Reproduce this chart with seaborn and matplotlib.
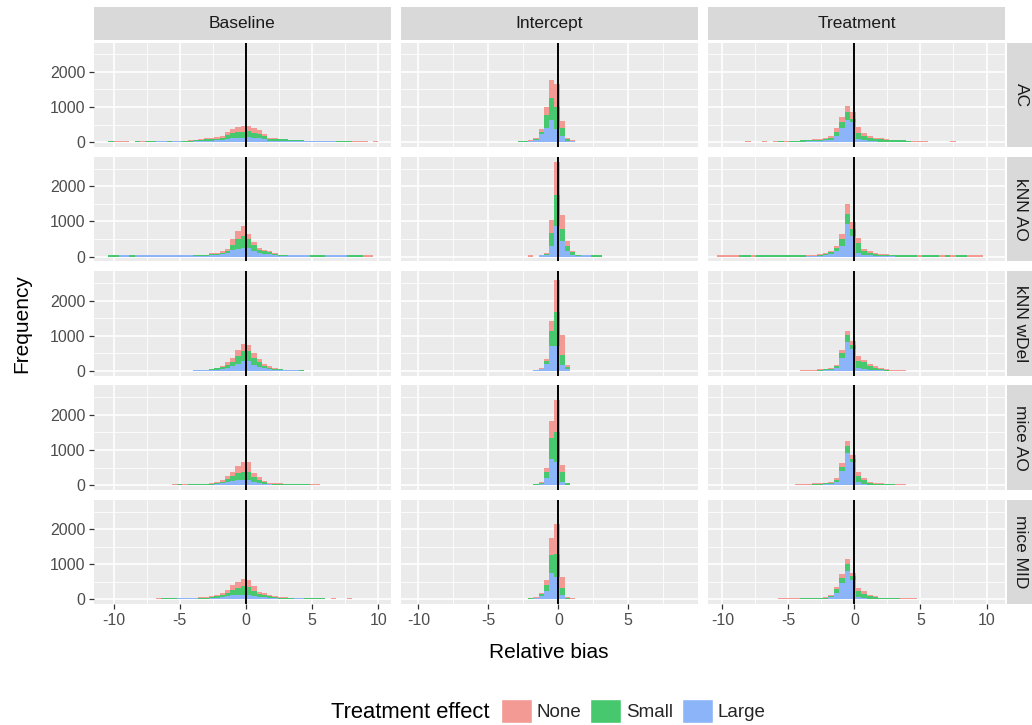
import numpy as np
import pandas as pd
import matplotlib
matplotlib.use("Agg")
import matplotlib.pyplot as plt
import seaborn as sns
from matplotlib.patches import Patch
from matplotlib.ticker import FixedLocator

sns.set_theme(style="darkgrid")
plt.rcParams["font.family"] = ["Liberation Sans", "DejaVu Sans"]

# ---------------- categories ----------------
params = ["Baseline", "Intercept", "Treatment"]
methods = ["AC", "kNN AO", "kNN wDel", "mice AO", "mice MID"]
levels = ["None", "Small", "Large"]
colors = {"None": "#F49A94", "Small": "#48C86E", "Large": "#8BB4F9"}

# bin widths (relative bias units) per column
bin_width = {"Baseline": 0.4, "Intercept": 0.375, "Treatment": 0.42}

# ---------------- data: counts per bin (left edge of first bin = *_start) ----------------
# Baseline
ac_base_start = -10.4
ac_base_none = [0,40,40,40,0,0,40,0,0,0, 0,0,0,0,0,20,25,30,35,40, 43,50,95,120,150,162,150,125,100,70, 38,10,0,0,0,0,0,0,0,0, 0,0,0,0,0,0,40,40,40,0, 40]
ac_base_small = [40,0,0,0,0,40,0,40,40,0, 0,40,0,0,45,17,25,35,40,48, 50,60,110,136,160,171,171,150,130,95, 50,60,55,52,48,42,35,0,0,0, 0,0,0,40,40,35,0,0,0,0, 0]
ac_base_large = [0,0,0,0,0,0,0,0,0,40, 40,0,40,40,0,20,26,30,39,45, 50,61,100,115,128,133,136,125,113,83, 45,44,40,34,28,25,22,40,40,40, 40,40,40,0,0,0,0,0,0,0, 0]

knnao_base_start = -10.4
knnao_base_none = [0,0,0,0,0,0,0,0,0,0, 0,0,0,0,0,0,15,15,15,20, 20,40,60,171,238,285,143,100,50,40, 35,20,10,8,0,0,0,0,0,0, 0,0,0,0,0,0,0,0,35,35, 0]
knnao_base_small = [35,35,0,0,35,0,0,0,0,0, 0,0,0,0,0,0,10,10,12,35, 35,50,75,152,257,333,238,150,90,65, 50,30,15,10,0,0,0,0,35,35, 35,0,0,0,0,35,35,35,0,0, 0]
knnao_base_large = [0,0,35,35,0,35,35,35,35,35, 35,35,35,35,35,35,23,23,25,40, 40,62,93,190,228,248,248,170,108,85, 67,45,23,20,35,35,35,35,0,0, 0,35,35,35,35,0,0,0,0,0, 0]

knnwdel_base_start = -4.0
knnwdel_base_none = [0,0,25,15,25,40,70,100,171,190,175,152,100,55,30,15,8,0,0,0,0]
knnwdel_base_small = [25,25,0,20,35,50,90,130,219,286,280,190,120,70,45,30,20,25,25,25,25]
knnwdel_base_large = [10,10,10,22,35,53,87,132,190,286,288,172,123,75,49,31,20,10,10,10,5]

miceao_base_start = -5.6
miceao_base_none = [35,0,35,0,0,10,10,10,25,40,80,120,200,267,260,120,70,30,15,10,10,0,0,0,0,0,35,35]
miceao_base_small = [0,35,0,35,35,20,20,20,35,50,100,140,210,238,240,130,85,45,22,20,20,30,30,30,30,30,0,0]
miceao_base_large = [0,0,0,0,0,15,15,18,35,53,87,121,142,143,147,102,64,39,20,18,18,5,5,5,5,0,0,0]

micemid_base_start = -6.8
micemid_base_none = [35,0,0,0,0,0,0,0,15,15, 25,40,50,80,150,170,219,200,120,55, 40,30,20,15,15,0,0,0,0,0, 0,0,0,35,0,0,35]
micemid_base_small = [0,35,35,35,0,0,0,5,20,20, 30,45,60,100,150,185,238,225,140,80, 70,55,35,22,22,30,0,0,35,35, 35,30,0,0,0,0,0]
micemid_base_large = [0,0,5,0,35,35,35,35,22,22, 31,48,61,87,119,140,133,137,111,74, 61,48,31,20,20,5,35,35,0,0, 0,0,0,0,0,0,0]

# Intercept
ac_int_start = -2.9
ac_int_none = [0,15,20,30,67,209,514,666,209,30,15,10]
ac_int_small = [35,10,20,30,76,381,628,619,219,40,20,5]
ac_int_large = [0,13,27,54,228,400,629,371,181,44,22,4]

knnao_int_start = -2.15
knnao_int_none = [35,0,0,19,381,952,381,124,40,10,0,0,0,0]
knnao_int_small = [0,0,0,38,362,876,352,162,76,15,0,0,35,35]
knnao_int_large = [0,0,35,38,295,866,438,152,55,23,35,35,0,0]

knnwdel_int_start = -1.775
knnwdel_int_none = [20,20,57,267,904,552,40]
knnwdel_int_small = [0,15,86,428,952,286,70]
knnwdel_int_large = [15,41,200,714,714,171,52]

miceao_int_start = -1.775
miceao_int_none = [0,30,133,476,923,209,20]
miceao_int_small = [35,25,152,609,857,267,30]
miceao_int_large = [0,40,209,743,648,95,17]

micemid_int_start = -2.15
micemid_int_none = [0,15,40,124,476,828,314,20,35]
micemid_int_small = [35,10,50,190,514,667,209,40,0]
micemid_int_large = [0,42,100,229,762,638,115,7,0]

# Treatment
ac_trt_start = -8.29
ac_trt_none = [38,0,0,38,0,38,0,38,0,0, 0,20,25,30,38,45,95,143,162,200, 162,95,48,38,30,20,15,0,0,0, 38,38,30,0,0,0,0,38]
ac_trt_small = [0,0,0,0,0,0,38,0,35,35, 40,30,30,35,45,60,124,162,238,100, 190,124,95,70,64,50,45,40,40,30, 0,0,0,0,0,0,0,0]
ac_trt_large = [0,0,0,0,0,0,0,0,0,0, 17,26,31,40,50,66,181,400,628,566, 86,57,38,25,20,16,16,15,10,10, 0,0,0,0,0,0,0,0]

knnao_trt_start = -10.39
knnao_trt_none = [38,38,38,38,0,0,38,0,0,0, 0,0,0,0,0,0,20,20,20,30, 30,48,143,286,209,124,76,40,30,25, 20,0,0,0,0,0,38,0,0,0, 38,0,38,0,0,38,38,38]
knnao_trt_small = [0,0,0,0,38,38,0,38,38,38, 38,38,38,38,38,38,10,10,25,35, 50,95,190,286,190,286,95,70,40,25, 30,30,38,38,38,38,0,38,38,38, 0,38,0,38,38,0,0,0]
knnao_trt_large = [0,0,0,0,0,0,0,0,0,0, 0,0,0,0,0,0,18,18,22,40, 72,152,295,914,581,105,57,42,25,17, 17,18,0,0,0,0,0,0,0,0, 0,0,0,0,0,0,0,0]

knnwdel_trt_start = -4.09
knnwdel_trt_none = [35,35,35,15,15,20,40,100,133,114,124,76,48,30,20,15,35,35,35]
knnwdel_trt_small = [0,0,0,25,30,30,50,124,190,95,209,190,114,70,40,25,0,0,0]
knnwdel_trt_large = [0,0,0,8,12,26,81,376,819,629,76,48,38,24,16,8,0,0,0]

miceao_trt_start = -4.51
miceao_trt_none = [38,38,38,20,15,15,30,50,100,152,105,114,76,40,15,15,0,0,38,38]
miceao_trt_small = [0,0,0,10,20,25,30,60,114,190,95,190,100,45,25,25,38,38,0,0]
miceao_trt_large = [0,0,0,18,13,27,35,99,409,914,657,76,33,10,8,8,0,0,0,0]

micemid_trt_start = -5.77
micemid_trt_none = [38,38,38,38,0,0,0,20,20,35,60,114,143,100,95,76,40,30,15,15,0,0,38,38,38]
micemid_trt_small = [0,0,0,0,38,38,38,15,25,40,95,143,190,95,171,114,70,40,25,25,38,38,0,0,0]
micemid_trt_large = [0,0,0,0,0,0,0,13,22,58,197,476,809,567,58,38,23,16,8,8,0,0,0,0,0]

panel_data = {
    ("AC", "Baseline"): (ac_base_start, ac_base_none, ac_base_small, ac_base_large),
    ("kNN AO", "Baseline"): (knnao_base_start, knnao_base_none, knnao_base_small, knnao_base_large),
    ("kNN wDel", "Baseline"): (knnwdel_base_start, knnwdel_base_none, knnwdel_base_small, knnwdel_base_large),
    ("mice AO", "Baseline"): (miceao_base_start, miceao_base_none, miceao_base_small, miceao_base_large),
    ("mice MID", "Baseline"): (micemid_base_start, micemid_base_none, micemid_base_small, micemid_base_large),
    ("AC", "Intercept"): (ac_int_start, ac_int_none, ac_int_small, ac_int_large),
    ("kNN AO", "Intercept"): (knnao_int_start, knnao_int_none, knnao_int_small, knnao_int_large),
    ("kNN wDel", "Intercept"): (knnwdel_int_start, knnwdel_int_none, knnwdel_int_small, knnwdel_int_large),
    ("mice AO", "Intercept"): (miceao_int_start, miceao_int_none, miceao_int_small, miceao_int_large),
    ("mice MID", "Intercept"): (micemid_int_start, micemid_int_none, micemid_int_small, micemid_int_large),
    ("AC", "Treatment"): (ac_trt_start, ac_trt_none, ac_trt_small, ac_trt_large),
    ("kNN AO", "Treatment"): (knnao_trt_start, knnao_trt_none, knnao_trt_small, knnao_trt_large),
    ("kNN wDel", "Treatment"): (knnwdel_trt_start, knnwdel_trt_none, knnwdel_trt_small, knnwdel_trt_large),
    ("mice AO", "Treatment"): (miceao_trt_start, miceao_trt_none, miceao_trt_small, miceao_trt_large),
    ("mice MID", "Treatment"): (micemid_trt_start, micemid_trt_none, micemid_trt_small, micemid_trt_large),
}

rows = []
for (m, p), (start, n_, s_, l_) in panel_data.items():
    w = bin_width[p]
    for lev, arr in zip(levels, (n_, s_, l_)):
        for i, c in enumerate(arr):
            if c > 0:
                rows.append({"method": m, "param": p, "effect": lev,
                             "bias": start + (i + 0.5) * w, "count": c})
df = pd.DataFrame(rows)

# bin edges per column
edges = {
    "Baseline": list(-10.4 + 0.4 * np.arange(0, 53)),
    "Intercept": list(0.1 + 0.375 * np.arange(-9, 10)),
    "Treatment": list(0.11 + 0.42 * np.arange(-25, 26)),
}
xlims = {"Baseline": (-11.48, 10.95), "Intercept": (-11.24, 9.98), "Treatment": (-11.09, 11.4)}
xmajor = {"Baseline": [-10, -5, 0, 5, 10], "Intercept": [-10, -5, 0, 5], "Treatment": [-10, -5, 0, 5, 10]}
xminor = {"Baseline": [-7.5, -2.5, 2.5, 7.5], "Intercept": [-7.5, -2.5, 2.5, 7.5], "Treatment": [-7.5, -2.5, 2.5, 7.5]}

# ---------------- figure layout (pixels) ----------------
W, H = 1032, 725
fig = plt.figure(figsize=(W / 100, H / 100), dpi=100)
fig.patch.set_facecolor("white")

def rect(x0, y0, w, h):
    return [x0 / W, 1 - (y0 + h) / H, w / W, h / H]

col_x = [94, 401, 708]
pw = 297
row_y = [42.5 + 114.3 * r for r in range(5)]
ph = 104.5

tick_col = "#333333"
lab_col = "#4D4D4D"

for r, m in enumerate(methods):
    for c, p in enumerate(params):
        ax = fig.add_axes(rect(col_x[c], row_y[r], pw, ph))
        ax.set_facecolor("#EBEBEB")
        sub = df[(df.method == m) & (df.param == p)]
        sns.histplot(data=sub, x="bias", weights="count", hue="effect",
                     hue_order=levels, palette=colors, multiple="stack",
                     bins=edges[p], alpha=1, linewidth=0, edgecolor="none",
                     legend=False, ax=ax, zorder=2)
        ax.axvline(0, color="black", lw=1.4, zorder=4)
        ax.set_xlim(*xlims[p])
        ax.set_ylim(-135, 2836)
        ax.xaxis.set_major_locator(FixedLocator(xmajor[p]))
        ax.xaxis.set_minor_locator(FixedLocator(xminor[p]))
        ax.yaxis.set_major_locator(FixedLocator([0, 1000, 2000]))
        ax.yaxis.set_minor_locator(FixedLocator([500, 1500, 2500]))
        ax.grid(which="major", color="white", lw=1.2, zorder=0)
        ax.grid(which="minor", color="white", lw=0.6, zorder=0)
        ax.set_axisbelow(True)
        for s in ax.spines.values():
            s.set_visible(False)
        ax.set_xlabel("")
        ax.set_ylabel("")
        ax.tick_params(which="minor", length=0)
        ax.tick_params(which="major", colors=tick_col, labelcolor=lab_col,
                       labelsize=11.5, length=3.8, width=0.9, pad=2.5,
                       left=(c == 0), bottom=(r == len(methods) - 1))
        if c == 0:
            ax.set_yticklabels(["0", "1000", "2000"])
        else:
            ax.tick_params(axis="y", length=0, labelleft=False)
        if r == len(methods) - 1:
            ax.set_xticklabels([str(v) for v in xmajor[p]])
        else:
            ax.tick_params(axis="x", length=0, labelbottom=False)

# top strips
for c, p in enumerate(params):
    sax = fig.add_axes(rect(col_x[c], 7, pw, 33))
    sax.set_facecolor("#D9D9D9")
    sax.set_xticks([]); sax.set_yticks([])
    sax.grid(False)
    for s in sax.spines.values():
        s.set_visible(False)
    sax.text(0.5, 0.5, p, ha="center", va="center", fontsize=12.5, color="#1A1A1A",
             transform=sax.transAxes)

# right strips
for r, m in enumerate(methods):
    sax = fig.add_axes(rect(1007, row_y[r], 32, ph))
    sax.set_facecolor("#D9D9D9")
    sax.set_xticks([]); sax.set_yticks([])
    sax.grid(False)
    for s in sax.spines.values():
        s.set_visible(False)
    fig.text(1021 / W, 1 - (row_y[r] + ph / 2) / H, m, rotation=-90, ha="center",
             va="center", fontsize=12.5, color="#1A1A1A")

# axis titles
fig.text(22 / W, 1 - 324 / H, "Frequency", rotation=90, ha="center", va="center",
         fontsize=15, color="black")
fig.text(549 / W, 1 - 652 / H, "Relative bias", ha="center", va="center",
         fontsize=15, color="black")

# legend
fig.text(331 / W, 1 - 712 / H, "Treatment effect", ha="left", va="center",
         fontsize=15.8, color="black")
handles = [Patch(facecolor=colors[l], edgecolor="white", lw=1) for l in levels]
fig.legend(handles, levels, ncol=3, loc="center left",
           bbox_to_anchor=(501 / W, 1 - 711 / H), frameon=False,
           fontsize=13.5, handlelength=1.65, handleheight=1.65, handletextpad=0.27,
           columnspacing=0.45, borderaxespad=0, borderpad=0)

fig.savefig("out.png", dpi=100, facecolor="white")
